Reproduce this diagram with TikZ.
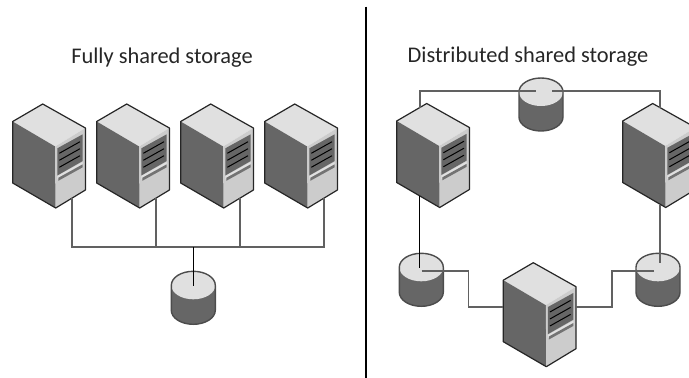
\documentclass[tikz,border=0pt]{standalone}
\usepackage{fontspec}
\setsansfont{Carlito}
\usepackage{xcolor}
\definecolor{topgray}{gray}{0.88}
\definecolor{sidegray}{gray}{0.4}
\definecolor{frontgray}{gray}{0.8}
\definecolor{wiregray}{gray}{0.38}
\tikzset{
  outline/.style={draw=black!85, line width=1.2pt, line join=round},
  wire/.style={draw=wiregray, line width=1.2pt},
  darkwire/.style={draw=black, line width=0.9pt},
  title/.style={font=\sffamily\fontsize{22.4}{26}\selectfont, inner sep=0pt, text=black!85},
  pics/server/.style={code={
    \fill[topgray] (-30,-17.5) -- (0,-35) -- (42.7,-11) -- (12.5,7.5) -- cycle;
    \fill[sidegray] (-30,-17.5) -- (12.5,7.5) -- (13,69) -- (-30,44) -- cycle;
    \fill[frontgray] (12.5,7.5) -- (42.7,-11) -- (42.7,51) -- (13,69) -- cycle;
    \fill[topgray] (14.6,37) -- (40,23) -- (40,26.5) -- (14.6,40.5) -- cycle;
    \fill[sidegray] (14.6,9.3) -- (40,-4.7) -- (40,22) -- (14.6,36.5) -- cycle;
    \foreach \dy in {0,7,14} {
      \draw[black, line width=1pt] (16.6,14.3+\dy) -- (37.3,2.7+\dy);
    }
    \fill[black!55] (15.6,38.8) -- (40,25.3) -- (40,28.3) -- (15.6,41.8) -- cycle;
    \draw[outline] (-30,-17.5) -- (0,-35) -- (42.7,-11) -- (42.7,51) -- (13,69)
      -- (-30,44) -- cycle;
    \coordinate (-drop) at (29.3,59);
    \coordinate (-topl) at (-6.7,-31);
    \coordinate (-topr) at (7.3,-31);
    \coordinate (-botl) at (-7.7,57);
    \coordinate (-botr) at (7.3,66);
    \coordinate (-west) at (-30,9.3);
    \coordinate (-east) at (42.7,9.3);
  }},
  pics/disk/.style={code={
    \fill[sidegray] (-22,0) -- (-22,25) arc[start angle=180, end angle=360,
      x radius=22, y radius=-14] -- (22,0) -- cycle;
    \fill[topgray] (0,0) ellipse [x radius=22, y radius=14];
    \draw[outline, draw=black!70, line width=1.4pt] (-22,0) arc[start angle=180, end angle=0,
      x radius=22, y radius=-14] -- (22,25)
      arc[start angle=0, end angle=-180, x radius=22, y radius=-14] -- cycle;
    \coordinate (-hub) at (0.2,0.7);
    \coordinate (-wl) at (-5,-1);
    \coordinate (-wr) at (11,-1);
    \coordinate (-pin) at (2,-4);
  }},
}
\begin{document}
\begin{tikzpicture}[x=1pt,y=-1pt]
\useasboundingbox (0,0) rectangle (689,378);
\clip (0,0) rectangle (689,378);

% titles and divider
\node[title] (fullytitle) at (162,57.5) {Fully shared storage};
\node[title] (disttitle) at (528,56.5) {Distributed shared storage};
\coordinate (divtop) at (365.7,6.5);
\coordinate (divbot) at (365.7,378);
\draw[black, line width=2pt] (divtop) -- (divbot);

% left panel
\pic (srva) at (42.7,139) {server};
\pic (srvb) at (126.7,139) {server};
\pic (srvc) at (210.7,139) {server};
\pic (srvd) at (294.7,139) {server};
\pic (diskm) at (193.3,285.3) {disk};
\coordinate (busw) at (srva-drop|-0,247);
\coordinate (buse) at (srvd-drop|-0,247);
\coordinate (busm) at (diskm-hub|-0,247);
\draw[wire] (srva-drop) -- (busw) -- (buse) -- (srvd-drop);
\draw[wire] (srvb-drop) -- (srvb-drop|-busw);
\draw[wire] (srvc-drop) -- (srvc-drop|-busw);
\draw[darkwire] (busm) -- (diskm-hub);

% right panel
\pic (srvp) at (426.7,138.5) {server};
\pic (srvq) at (652.7,138.5) {server};
\pic (srvr) at (533.3,297.7) {server};
\pic (diskt) at (541,92) {disk};
\pic (diskl) at (421.3,267.3) {disk};
\pic (diskr) at (658,267.3) {disk};
\coordinate (ringl) at (srvp-topl|-0,91);
\coordinate (ringr) at (srvq-topr|-0,91);
\coordinate (jogl) at (468.7,271);
\coordinate (jogr) at (612,271);
\draw[wire] (srvp-topl) -- (ringl) -- (diskt-wl);
\draw[wire] (diskt-wr) -- (ringr) -- (srvq-topr);
\draw[darkwire] (srvp-botl) -- (srvp-botl|-diskl-hub);
\draw[wire] (srvq-botr) -- (srvq-botr|-diskr-pin);
\draw[wire] (diskl-hub|-jogl) -- (jogl) -- (jogl|-srvr-west) -- (srvr-west);
\draw[wire] (654,271) -- (jogr) -- (jogr|-srvr-east) -- (srvr-east);
\end{tikzpicture}
\end{document}
